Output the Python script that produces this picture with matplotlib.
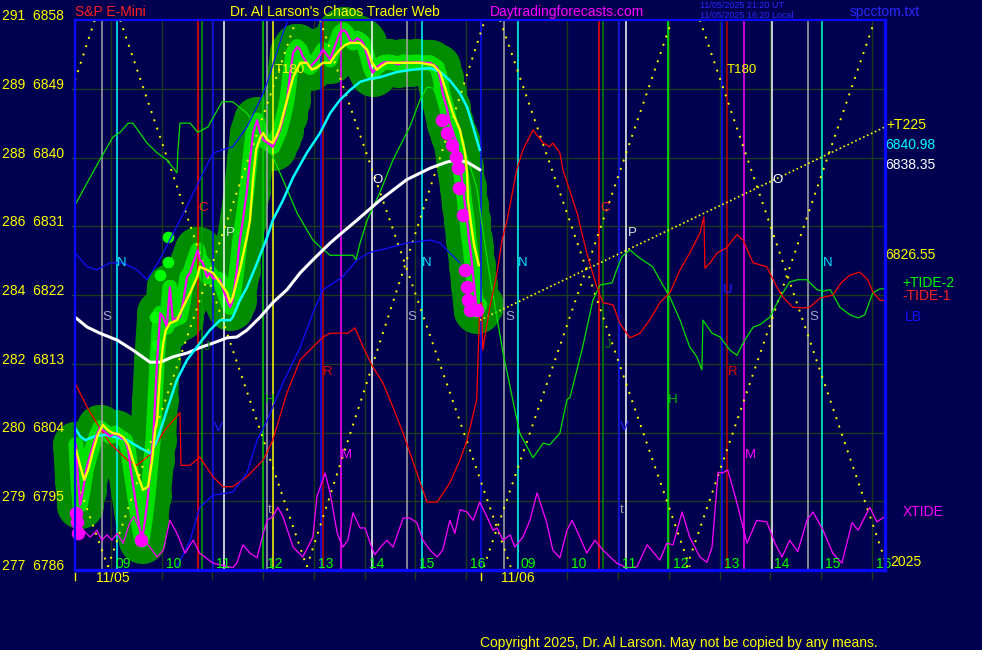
import matplotlib
matplotlib.use('Agg')
import matplotlib.pyplot as plt
import matplotlib.transforms as mtransforms

BG = '#000050'
plt.rcParams['font.family'] = ['Liberation Sans', 'DejaVu Sans']

# ---------------- data (time in session hours; day 2 hour h -> h + 8) ----------------
price_t = [8.31,8.35,8.39,8.45,8.51,8.59,8.68,8.78,8.88,8.98,
           9.08,9.18,9.28,9.34,9.39,9.45,9.51,9.57,9.61,9.67,
           9.73,9.79,9.83,9.87,9.91,9.97,10.03,10.10,10.16,10.22,
           10.30,10.36,10.42,10.50,10.56,10.62,10.71,10.75,10.81,10.89,
           10.95,11.01,11.15,11.23,11.29,11.35,11.40,11.48,11.54,11.60,
           11.68,11.74,11.80,11.88,11.94,12.00,12.09,12.19,12.27,12.33,
           12.41,12.47,12.53,12.59,12.67,12.73,12.78,12.86,12.92,13.00,
           13.06,13.12,13.18,13.26,13.32,13.42,13.51,13.59,13.65,13.71,
           13.77,13.85,13.91,13.97,14.05,14.11,14.16,14.24,14.36,14.46,
           14.56,14.66,14.76,14.89,15.03,15.15,15.29,15.43,15.49,15.54,
           15.62,15.68,15.76,15.82,15.88,15.94,15.98,16.02,16.06,16.08,
           16.12,16.16,16.21,16.27]
price_p = [6802.4,6797.8,6794.5,6796.5,6799.1,6801.1,6803.0,6804.6,6804.1,6803.5,
           6803.9,6803.4,6803.0,6801.7,6799.1,6796.5,6793.9,6791.2,6789.9,6792.5,
           6795.8,6800.4,6803.0,6808.3,6813.5,6819.6,6819.1,6817.8,6823.0,6818.7,
           6819.0,6819.1,6821.0,6824.4,6824.9,6826.2,6827.9,6826.6,6826.2,6824.4,
           6824.9,6824.2,6824.0,6822.4,6821.3,6820.4,6821.3,6825.3,6829.2,6831.8,
           6835.7,6839.7,6843.2,6844.9,6843.3,6842.3,6841.9,6841.4,6842.6,6843.6,
           6845.6,6847.5,6850.8,6853.7,6854.5,6854.1,6853.2,6852.4,6851.8,6852.4,
           6852.8,6853.4,6854.1,6853.4,6852.8,6854.7,6856.3,6856.7,6856.3,6855.4,
           6855.0,6855.6,6855.4,6855.0,6853.4,6851.8,6851.1,6851.8,6852.4,6852.5,
           6852.4,6852.2,6852.5,6852.4,6852.5,6852.4,6852.4,6851.8,6850.4,6848.4,
           6846.5,6844.5,6842.9,6841.9,6838.8,6836.1,6833.8,6831.8,6829.2,6828.3,
           6825.9,6823.3,6820.0,6820.7]

smooth_t = [8.31,8.39,8.47,8.55,8.65,8.74,8.84,8.94,9.04,9.14,
            9.24,9.34,9.43,9.53,9.63,9.73,9.81,9.87,9.91,9.97,
            10.03,10.08,10.16,10.30,10.42,10.56,10.70,10.75,10.89,11.01,
            11.15,11.29,11.35,11.40,11.54,11.68,11.74,11.80,11.86,11.94,
            12.00,12.08,12.19,12.27,12.33,12.47,12.59,12.73,12.86,12.96,
            13.06,13.18,13.32,13.42,13.51,13.61,13.71,13.91,14.05,14.14,
            14.24,14.34,14.44,14.76,15.09,15.35,15.49,15.62,15.74,15.88,
            15.98,16.02,16.04,16.10,16.16,16.25]
smooth_p = [6801.7,6799.7,6797.8,6799.1,6801.7,6803.7,6805.0,6804.3,6803.9,6803.8,
            6803.4,6802.4,6800.4,6798.4,6796.5,6796.9,6800.4,6804.3,6805.6,6812.2,
            6815.7,6817.4,6818.3,6818.7,6820.4,6822.3,6824.4,6825.7,6825.3,6824.9,
            6823.6,6822.3,6821.0,6821.7,6825.3,6829.6,6831.8,6837.1,6841.0,6842.6,
            6843.2,6842.3,6841.9,6842.9,6844.0,6847.5,6850.5,6852.4,6852.4,6851.5,
            6851.8,6852.4,6852.4,6853.4,6854.1,6854.7,6855.0,6855.0,6854.1,6852.5,
            6851.5,6852.0,6852.4,6852.4,6852.4,6852.1,6851.1,6848.4,6845.8,6843.6,
            6840.6,6838.0,6834.4,6831.2,6828.5,6825.9]

ma_fast_t = [8.29,8.39,8.49,8.68,8.88,9.08,9.32,9.57,9.77,9.87,
             9.91,10.10,10.30,10.50,10.75,10.95,11.15,11.35,11.40,11.54,
             11.68,11.88,12.08,12.19,12.39,12.59,12.86,13.12,13.32,13.51,
             13.71,13.91,14.11,14.30,14.64,14.95,15.29,15.49,15.68,15.88,
             16.02,16.14,16.27]
ma_fast_p = [6804.6,6803.5,6803.0,6803.5,6803.7,6803.4,6803.0,6802.0,6801.3,6802.4,
             6803.0,6806.9,6810.9,6813.5,6815.7,6817.4,6818.7,6818.7,6819.1,6821.3,
             6823.0,6826.2,6829.6,6831.8,6834.4,6837.4,6840.6,6843.2,6845.8,6847.5,
             6848.8,6849.9,6850.3,6850.5,6851.2,6851.5,6851.7,6851.2,6850.1,6848.4,
             6846.6,6844.0,6841.0]

ma_slow_t = [8.29,8.53,8.78,9.12,9.43,9.77,9.97,10.22,10.50,10.75,
             11.01,11.29,11.48,11.68,11.94,12.19,12.47,12.73,12.98,13.18,
             13.32,13.51,13.85,14.30,14.83,15.29,15.62,15.82,16.02,16.27]
ma_slow_p = [6819.1,6817.8,6817.0,6816.1,6814.8,6813.2,6813.2,6813.9,6814.4,6815.1,
             6815.7,6816.4,6816.5,6817.4,6819.1,6821.0,6822.7,6824.9,6826.6,6827.9,
             6828.8,6829.9,6831.8,6834.4,6837.1,6838.6,6839.4,6839.7,6839.4,6838.4]

tide2_t = [8.31,8.53,8.78,9.04,9.18,9.34,9.43,9.71,9.91,10.10,
           10.30,10.32,10.36,10.56,10.71,10.91,11.19,11.40,11.68,12.00,
           12.19,12.39,12.67,12.98,13.12,13.32,13.77,13.83,13.91,14.05,
           14.30,14.56,14.89,15.09,15.23,15.35,15.54,15.82,16.02,16.21,
           16.33,16.47,16.73,16.92,17.06,17.32,17.52,17.65,17.85,17.99,
           18.05,18.30,18.50,18.64,18.88,18.97,19.07,19.23,19.43,19.68,
           19.82,20.02,20.22,20.41,20.55,20.65,20.67,20.85,21.01,21.20,
           21.34,21.46,21.66,21.79,21.99,22.19,22.38,22.54,22.72,22.92,
           23.04,23.18,23.37,23.57,23.73,23.86,24.02,24.16,24.26]
tide2_p = [6834.0,6836.7,6839.7,6842.7,6843.3,6844.5,6844.5,6841.9,6840.6,6839.7,
           6838.0,6841.0,6844.5,6844.5,6843.3,6844.0,6847.3,6847.3,6845.8,6842.7,
           6840.1,6837.1,6832.7,6829.2,6828.3,6827.2,6827.2,6826.6,6828.8,6831.8,
           6835.4,6839.7,6844.0,6847.5,6849.2,6849.1,6846.2,6843.2,6840.1,6836.1,
           6830.5,6824.4,6814.4,6808.3,6803.9,6800.7,6802.6,6802.4,6803.9,6808.3,
           6808.6,6815.2,6821.3,6823.3,6823.6,6825.3,6827.0,6827.9,6826.8,6825.7,
           6824.0,6821.7,6818.7,6815.2,6813.9,6812.2,6818.7,6817.0,6816.5,6814.8,
           6814.1,6815.7,6817.8,6818.1,6819.1,6821.7,6823.7,6824.0,6824.0,6822.7,
           6822.5,6822.7,6820.4,6819.4,6819.0,6819.4,6822.3,6822.8,6822.8]

tide1_t = [8.29,8.53,8.72,8.98,9.32,9.51,9.77,10.06,10.36,10.38,
           10.56,10.75,11.01,11.21,11.40,11.68,12.00,12.19,12.47,12.73,
           12.98,13.18,13.32,13.67,13.81,13.97,14.16,14.36,14.56,14.76,
           15.03,15.23,15.43,15.68,15.88,16.02,16.21,16.27,16.31,16.33,
           16.37,16.47,16.61,16.71,16.81,17.00,17.12,17.32,17.52,17.65,
           17.71,17.85,17.91,18.19,18.38,18.58,18.70,18.90,19.03,19.23,
           19.43,19.62,19.82,20.02,20.22,20.41,20.61,20.69,20.71,20.81,
           20.95,21.14,21.34,21.46,21.66,21.93,22.13,22.25,22.44,22.64,
           22.78,22.98,23.23,23.41,23.57,23.76,23.92,24.02,24.16,24.26]
tide1_p = [6810.5,6807.3,6805.2,6802.6,6800.4,6799.7,6801.1,6804.3,6806.6,6799.7,
           6799.7,6800.8,6798.2,6796.9,6796.9,6798.2,6800.4,6803.0,6809.2,6813.5,
           6815.2,6816.5,6817.0,6817.0,6817.7,6815.2,6812.6,6810.5,6807.3,6803.9,
           6798.7,6794.9,6794.9,6797.4,6800.4,6803.0,6808.3,6820.7,6821.0,6814.8,
           6816.5,6820.4,6824.9,6829.2,6831.8,6838.4,6841.0,6843.6,6841.9,6841.4,
           6841.9,6840.6,6838.4,6832.7,6827.5,6823.0,6821.0,6820.7,6818.3,6816.4,
           6817.0,6818.7,6821.0,6822.3,6825.3,6827.5,6830.1,6832.2,6825.5,6826.2,
           6827.5,6828.2,6829.9,6829.2,6826.2,6825.7,6823.0,6821.7,6820.4,6820.3,
           6820.4,6821.6,6822.0,6823.7,6824.6,6825.0,6824.0,6822.4,6821.3,6821.3]

lb_a_t = [8.29,8.53,8.72,8.98,9.24,9.51,9.71,9.95,10.36,11.01,11.29,11.40,11.68,11.94,12.08,12.39,12.49]
lb_a_p = [6827.5,6825.7,6825.3,6826.2,6826.2,6825.3,6824.0,6826.5,6831.8,6840.6,6841.2,6841.4,6844.0,6847.5,6849.8,6856.3,6858.0]
lb_b_t = [10.30,10.56,10.75,11.01,11.40,11.68,11.88,12.08,12.39,12.73,
          12.98,13.18,13.32,13.57,13.85,14.11,14.50,14.83,15.29,15.49,15.68,15.88]
lb_b_p = [6786.4,6789.9,6794.2,6795.8,6796.2,6798.7,6803.0,6805.6,6810.5,6815.2,
          6819.6,6822.7,6823.3,6824.4,6826.6,6827.6,6828.2,6828.8,6829.2,6828.8,6827.5,6826.2]

xtide_t = [8.31,8.45,8.59,8.72,8.82,8.92,9.02,9.12,9.24,9.37,
           9.45,9.59,9.71,9.91,10.03,10.16,10.30,10.46,10.62,10.75,
           11.01,11.40,11.48,11.60,11.74,11.88,12.00,12.08,12.19,12.29,
           12.39,12.59,12.78,12.98,13.06,13.22,13.32,13.46,13.57,13.67,
           13.77,13.91,14.01,14.11,14.20,14.30,14.44,14.56,14.76,14.89,
           15.03,15.15,15.29,15.43,15.54,15.68,15.78,15.88,16.02,16.14,
           16.27,16.41,16.53,16.61,16.73,16.87,16.96,17.12,17.26,17.40,
           17.59,17.71,17.85,17.99,18.09,18.21,18.38,18.54,18.70,18.97,
           19.17,19.37,19.57,19.82,19.96,20.08,20.26,20.41,20.61,20.75,
           20.85,20.97,21.06,21.16,21.34,21.54,21.73,21.93,22.09,22.23,
           22.38,22.54,22.72,22.84,23.04,23.23,23.41,23.61,23.73,23.96,
           24.10,24.26]
xtide_p = [6791.9,6791.2,6790.3,6791.2,6789.9,6790.6,6789.9,6790.8,6789.5,6792.2,
           6793.0,6791.0,6789.5,6787.7,6788.6,6792.5,6790.8,6788.2,6789.9,6788.2,
           6786.9,6786.3,6786.9,6789.3,6788.2,6787.6,6790.8,6792.5,6793.0,6794.2,
           6793.0,6789.0,6787.7,6790.3,6795.6,6798.7,6796.1,6790.8,6789.0,6789.9,
           6793.5,6791.5,6791.5,6789.5,6788.0,6788.9,6789.9,6789.0,6792.8,6792.8,
           6792.2,6789.9,6788.6,6787.7,6788.6,6792.5,6790.8,6793.9,6793.6,6792.5,
           6794.9,6793.0,6791.2,6791.5,6789.9,6790.6,6789.0,6790.3,6792.5,6796.1,
           6792.2,6788.6,6787.6,6791.2,6792.5,6790.8,6788.2,6789.9,6788.6,6786.9,
           6786.3,6786.4,6789.3,6787.3,6789.5,6789.3,6793.6,6790.3,6787.7,6787.0,
           6789.0,6798.8,6798.7,6799.1,6794.8,6789.5,6792.5,6792.3,6789.5,6787.7,
           6789.9,6788.4,6792.5,6793.6,6791.2,6788.2,6786.9,6792.2,6791.2,6794.2,
           6792.3,6793.0]

dot_t = [8.31,8.33,8.35,9.59,15.52,15.62,15.72,15.80,15.84,15.86,15.94,15.98,16.02,16.04,16.08,16.21]
dot_p = [6793.5,6792.3,6790.8,6789.9,6844.9,6843.2,6841.6,6840.1,6838.6,6836.0,6832.5,6825.3,6823.0,6821.3,6820.0,6820.0]
gdot_t = [10.12,10.12,9.97,9.87,9.91]
gdot_p = [6829.6,6826.3,6824.6,6819.1,6815.5]

vline_t = [8.82,9.12,10.71,10.79,11.01,11.23,12.00,12.08,12.19,13.14,13.18,13.53,14.14,14.83,15.13,16.29,
           16.75,17.02,18.62,18.70,19.01,19.15,19.98,21.04,21.14,21.48,22.03,22.74,23.02]
vline_c = ['#a8a8a8','#00ffff','#ff0000','#00a000','#1010ff','#ffffff','#00d000','#a8a8a8','#ffff00',
           '#1010ff','#c00000','#ff00ff','#ffffff','#a8a8a8','#00ffff','#1010ff',
           '#a8a8a8','#00ffff','#ff0000','#008800','#1010ff','#ffffff','#00ff00','#1010ff','#c00000',
           '#ff00ff','#ffffff','#a8a8a8','#00ffd0']

tl_t0 = [8.29, 9.18, 12.86, 13.12, 16.35, 16.67, 20.61, 20.35, 8.94, 8.29]
tl_p0 = [6850.1, 6858.0, 6786.4, 6858.0, 6786.4, 6858.0, 6858.0, 6786.4, 6786.4, 6798.4]
tl_t1 = [8.68, 12.86, 16.37, 16.88, 20.06, 20.41, 24.26, 24.06, 12.65, 8.94]
tl_p1 = [6858.0, 6786.4, 6858.0, 6786.4, 6858.0, 6786.4, 6787.3, 6858.0, 6858.0, 6786.4]
t225_t = [16.27, 24.26]
t225_p = [6818.7, 6844.0]

lab_t = [8.92,9.22,10.81,11.35,12.53,14.26,15.23,14.93,17.12,16.87,18.74,19.27,21.44,22.15,23.13,22.86,
         13.28,13.65,21.26,21.60,12.13,20.08,10.89,18.80,21.16,11.11,19.13,12.13,19.07]
lab_p = [6819.1,6826.2,6833.4,6830.1,6851.5,6837.1,6826.2,6819.1,6826.2,6819.1,6833.4,6830.1,6851.5,6837.1,6826.2,6819.1,
         6811.9,6801.1,6811.9,6801.1,6808.3,6808.3,6815.2,6815.5,6822.7,6804.6,6804.7,6793.9,6793.9]
lab_s = ['S','N','C','P','T180','O','N','S','N','S','C','P','T180','O','N','S',
         'R','M','R','M','H','H','J','J','U','V','V','t','t']
lab_c = ['#a8a8c8','#00e0ff','#ff2020','#e0e0e0','#ffff00','#ffffff','#00e0ff','#a8a8c8','#00e0ff','#a8a8c8',
         '#ff2020','#e0e0e0','#ffff00','#ffffff','#00e0ff','#a8a8c8',
         '#e00000','#ff00ff','#e00000','#ff00ff','#00c000','#00c000','#008000','#008000','#2020ff','#2020ff','#2020ff',
         '#a0a0a0','#a0a0a0']

y_ticks = [6786, 6795, 6804, 6813, 6822, 6831, 6840, 6849, 6858]
y_left = ['277', '279', '280', '282', '284', '286', '288', '289', '291']
hour_t = list(range(9, 25))
hour_lab = ['09','10','11','12','13','14','15','16','09','10','11','12','13','14','15','16']
date_t = [9.04, 17.02]
date_lab = ['11/05', '11/06']
mark_t = [8.29, 16.29]

# ---------------- figure ----------------
fig = plt.figure(figsize=(9.82, 6.50), dpi=100)
fig.patch.set_facecolor(BG)
ax = fig.add_axes([75/982, 80/650, 810/982, 550/650])
ax.set_facecolor(BG)
ax.set_xlim(8.29, 24.26)
ax.set_ylim(6786, 6858)

GRID = '#1c3a1c'
ax.set_xticks(hour_t)
ax.set_yticks(y_ticks[1:-1])
ax.tick_params(axis='x', length=7, width=1, color=GRID, labelbottom=False, direction='out')
ax.tick_params(axis='y', length=2.5, width=1, color='#207020', labelleft=False, direction='out')
ax.grid(True, color=GRID, lw=1.0, zorder=0.5)
ax.set_axisbelow(True)
for side, w in [('left', 1.6), ('right', 2.4), ('top', 1.6), ('bottom', 2.4)]:
    ax.spines[side].set_color('#0a0aff')
    ax.spines[side].set_linewidth(w)
    ax.spines[side].set_zorder(9)

# glow around price
ax.plot(price_t, price_p, color='#008c00', lw=33, solid_capstyle='round',
        solid_joinstyle='round', zorder=2, clip_on=False)
ax.scatter(price_t, price_p, s=1150, color='#008c00', lw=0, zorder=2, clip_on=False)
ax.plot(price_t, price_p, color='#00e000', lw=11, solid_capstyle='round',
        solid_joinstyle='round', zorder=2.3, clip_on=False)
ax.scatter(gdot_t, gdot_p, s=70, color='#00ff00', zorder=2.4, lw=0)

# vertical event lines
for t, c in zip(vline_t, vline_c):
    ax.axvline(t, color=c, lw=1.1, zorder=3)

# dotted T lines
for a, b, c, d in zip(tl_t0, tl_p0, tl_t1, tl_p1):
    ax.plot([a, c], [b, d], color='#ffff00', lw=1.4, ls=(0, (1, 3.5)), zorder=3.5)
ax.plot(t225_t, t225_p, color='#ffff00', lw=1.2, ls=(0, (1, 1.6)), zorder=3.5)

# thin forecast lines
ax.plot(tide2_t, tide2_p, color='#00e000', lw=0.9, zorder=4)
ax.plot(tide1_t, tide1_p, color='#ff0000', lw=0.9, zorder=4)
ax.plot(lb_a_t, lb_a_p, color='#1010ff', lw=0.9, zorder=4)
ax.plot(lb_b_t, lb_b_p, color='#1010ff', lw=0.9, zorder=4)
ax.plot(xtide_t, xtide_p, color='#ff00ff', lw=0.9, zorder=4)

# averages
ax.plot(ma_slow_t, ma_slow_p, color='#ffffff', lw=2.2, zorder=5)
ax.plot(ma_fast_t, ma_fast_p, color='#00ffff', lw=1.8, zorder=5)

# price
ax.plot(price_t, price_p, color='#ff00ff', lw=1.6, zorder=6, clip_on=False)
ax.scatter(dot_t, dot_p, s=95, color='#ff00ff', zorder=6.2, lw=0, clip_on=False)
ax.plot(smooth_t, smooth_p, color='#ffff00', lw=1.7, zorder=6.5, clip_on=False)

# letters
for t, p, s, c in zip(lab_t, lab_p, lab_s, lab_c):
    ax.text(t, p, s, color=c, fontsize=9.5, ha='center', va='center', zorder=8)

# left axis labels
ytr = mtransforms.offset_copy(mtransforms.blended_transform_factory(ax.transAxes, ax.transData),
                              fig=fig, x=0, y=4, units='dots')
for p, s in zip(y_ticks, y_left):
    ax.text(-11/810, p, f'{s}  {p}', color='#ffff00', fontsize=10, ha='right', va='center',
            transform=ytr, clip_on=False)

# hour labels
htr = mtransforms.offset_copy(mtransforms.blended_transform_factory(ax.transData, ax.transAxes),
                              fig=fig, x=4, y=1.5, units='dots')
for t, s in zip(hour_t, hour_lab):
    ax.text(t, 0, s, color='#00ff00', fontsize=10, ha='left', va='baseline',
            transform=htr, clip_on=False, zorder=8)
dtr = mtransforms.offset_copy(mtransforms.blended_transform_factory(ax.transData, ax.transAxes),
                              fig=fig, x=0, y=-8, units='dots')
for t, s in zip(date_t, date_lab):
    ax.text(t, 0, s, color='#ffff00', fontsize=10, ha='center', va='center',
            transform=dtr, clip_on=False)
btr = mtransforms.blended_transform_factory(ax.transData, ax.transAxes)
for t in mark_t:
    ax.plot([t, t], [-3/550, -10/550], color='#ffff00', lw=1, transform=btr, clip_on=False)

# right side labels
def rlab(t, p, s, c):
    ax.text(t, p, s, color=c, fontsize=10, ha='left', va='center', clip_on=False)

rlab(24.28, 6844.3, '+T225', '#ffff00')
rlab(24.27, 6841.6, '6840.98', '#00ffff')
rlab(24.27, 6839.0, '6838.35', '#ffffff')
rlab(24.27, 6827.2, '6826.55', '#ffff00')
rlab(24.61, 6823.6, '+TIDE-2', '#00ff00')
rlab(24.61, 6821.9, '-TIDE-1', '#ff2020')
rlab(24.65, 6819.1, 'LB', '#1010ff')
rlab(24.61, 6793.6, 'XTIDE', '#ff00ff')
rlab(24.36, 6787.0, '2025', '#ffff00')

# header / footer
def ftext(x, y, s, c, size=10):
    fig.text(x/982, 1 - y/650, s, color=c, fontsize=size, ha='left', va='center')

ftext(75, 12, 'S&P E-Mini', '#ff2020')
ftext(230, 12, "Dr. Al Larson's Chaos Trader Web", '#ffff00')
ftext(490, 12, 'Daytradingforecasts.com', '#ff00ff')
ftext(700, 5, '11/05/2025 21:20 UT', '#2a2aff', 6.5)
ftext(700, 15, '11/05/2025 16:20 Local', '#2a2aff', 6.5)
ftext(850, 12, 'spcctom.txt', '#2a2aff')
ftext(480, 643, 'Copyright 2025, Dr. Al Larson. May not be copied by any means.', '#ffff00')

fig.savefig('out.png', dpi=100, facecolor=BG)
